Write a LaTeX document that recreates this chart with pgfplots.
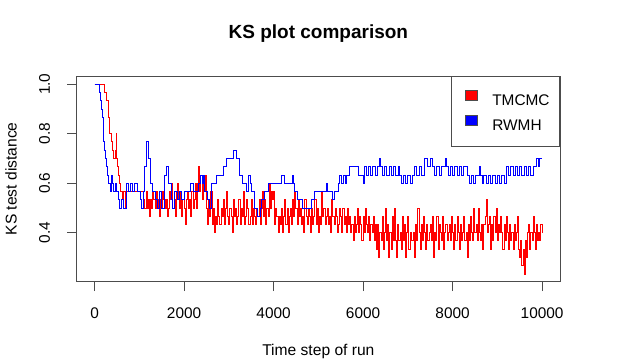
\documentclass[border=0pt]{standalone}
\usepackage{pgfplots}
\pgfplotsset{compat=1.18}
\usepackage{pgfplotstable}
\usepackage{fontspec}
\setmainfont{Liberation Sans}

% KS distance per time step, RWMH sampler
\pgfplotstableread{
x y
0 1.000
100 0.967
130 0.933
150 0.900
170 0.867
190 0.800
210 0.767
230 0.733
250 0.700
270 0.667
290 0.633
320 0.600
350 0.567
380 0.633
400 0.600
430 0.567
460 0.600
500 0.567
530 0.533
560 0.500
600 0.533
650 0.500
710 0.600
760 0.567
800 0.600
850 0.567
900 0.600
950 0.567
1020 0.533
1050 0.500
1090 0.567
1125 0.667
1150 0.767
1200 0.700
1245 0.600
1300 0.567
1355 0.533
1400 0.500
1450 0.567
1500 0.500
1570 0.633
1610 0.667
1645 0.600
1715 0.533
1750 0.500
1795 0.567
1850 0.533
1900 0.567
1950 0.533
2000 0.567
2150 0.600
2200 0.567
2315 0.600
2360 0.633
2400 0.600
2440 0.633
2465 0.567
2520 0.533
2560 0.500
2610 0.600
2720 0.633
2870 0.667
2945 0.700
3095 0.733
3170 0.700
3245 0.633
3300 0.600
3400 0.567
3430 0.633
3480 0.600
3500 0.567
3580 0.500
3630 0.467
3700 0.500
3730 0.533
3800 0.567
3880 0.600
4175 0.633
4250 0.600
4420 0.633
4440 0.600
4460 0.567
4540 0.533
4655 0.500
4840 0.533
4920 0.567
5180 0.600
5200 0.567
5320 0.533
5360 0.567
5440 0.600
5480 0.633
5520 0.600
5560 0.633
5600 0.600
5640 0.633
5700 0.667
5890 0.633
6000 0.600
6035 0.667
6080 0.633
6120 0.667
6170 0.633
6220 0.667
6270 0.633
6320 0.667
6370 0.700
6390 0.667
6440 0.633
6480 0.667
6530 0.633
6580 0.667
6630 0.633
6680 0.667
6730 0.633
6780 0.667
6815 0.633
6860 0.600
6900 0.633
6950 0.600
7000 0.633
7050 0.600
7100 0.633
7150 0.667
7200 0.633
7250 0.667
7300 0.633
7375 0.700
7450 0.667
7500 0.700
7560 0.667
7600 0.633
7650 0.667
7700 0.633
7750 0.667
7840 0.700
7860 0.667
7900 0.633
7950 0.667
8000 0.633
8050 0.667
8100 0.633
8150 0.667
8200 0.633
8250 0.667
8340 0.633
8380 0.600
8420 0.633
8470 0.600
8520 0.633
8600 0.667
8620 0.633
8660 0.600
8700 0.633
8750 0.600
8800 0.633
8850 0.600
8900 0.633
8950 0.600
9000 0.633
9050 0.600
9100 0.633
9150 0.600
9200 0.667
9250 0.633
9300 0.667
9350 0.633
9400 0.667
9450 0.633
9500 0.667
9550 0.633
9600 0.667
9650 0.633
9700 0.667
9750 0.633
9800 0.667
9870 0.700
9920 0.667
9950 0.700
10000 0.700
}\rwmh

\begin{document}
\begin{tikzpicture}
\useasboundingbox (-76.7pt,-77.3pt) rectangle (560.3pt,281.7pt);
\begin{axis}[
  scale only axis,
  width=483.3pt, height=205.7pt,
  xmin=-400, xmax=10400,
  ymin=0.2023, ymax=1.0335,
  xtick={0,2000,4000,6000,8000,10000},
  ytick={0.4,0.6,0.8,1.0},
  scaled ticks=false,
  xticklabel style={/pgf/number format/1000 sep={}, inner sep=0pt},
  yticklabel style={/pgf/number format/.cd, fixed, fixed zerofill, precision=1, /tikz/.cd,
    rotate=90, anchor=south, inner sep=0pt},
  /pgf/number format/assume math mode=true,
  xticklabel shift=16pt,
  yticklabel shift=17pt,
  tick label style={font=\fontsize{15.4}{17}\selectfont},
  label style={font=\fontsize{15.6}{18}\selectfont},
  tick pos=left,
  tick align=outside,
  major tick length=9.5pt,
  tick style={black!70, line width=0.8pt},
  axis line style={black!70, line width=0.8pt},
  xlabel={Time step of run},
  ylabel={KS test distance},
  xlabel style={at={(axis description cs:0.5,-0.3388)}, anchor=center},
  ylabel style={at={(axis description cs:-0.136,0.5)}, anchor=center},
  title={KS plot comparison},
  title style={at={(axis description cs:0.5,1.175)}, anchor=center,
    font=\fontsize{19}{22}\selectfont\bfseries},
  legend style={at={(1,1)}, anchor=north east, draw=black!70, line width=0.8pt,
    fill=white, inner xsep=10pt, inner ysep=14pt, row sep=8pt,
    nodes={inner sep=0pt}, font=\fontsize{15.4}{17}\selectfont,
    /tikz/every odd column/.append style={column sep=14pt}},
  legend cell align=left,
]
% TMCMC
\addplot[const plot, red, line width=1pt, forget plot] coordinates {
(0,1.000) (230,0.967) (260,0.933) (300,0.900) (320,0.867) (340,0.800) (370,0.767) (390,0.733)
(430,0.700) (460,0.733) (480,0.800) (490,0.700) (520,0.667) (540,0.633) (560,0.600) (580,0.567)
(620,0.533) (640,0.567) (680,0.500) (700,0.567)
(1100,.533) (1125,.500) (1150,.567) (1175,.500) (1200,.533) (1225,.467) (1250,.533) (1275,.500)
(1300,.567) (1325,.533) (1350,.500) (1375,.567) (1400,.533) (1425,.500) (1450,.467) (1475,.533)
(1500,.500) (1525,.567) (1550,.533) (1575,.500) (1600,.533) (1625,.467) (1650,.500) (1675,.567)
(1700,.533) (1725,.600) (1750,.500) (1775,.533) (1800,.467) (1825,.567) (1850,.600) (1875,.533)
(1900,.500) (1925,.567) (1950,.467) (1975,.533) (2000,.500) (2025,.433) (2050,.533) (2075,.567)
(2100,.500) (2125,.533) (2150,.467) (2175,.567) (2200,.500) (2225,.533) (2250,.600) (2275,.500)
(2300,.600) (2325,.667) (2350,.567) (2375,.633) (2400,.533) (2425,.600) (2450,.567) (2475,.633)
(2500,.500) (2525,.433) (2550,.533) (2575,.467) (2600,.567) (2625,.433) (2650,.500) (2675,.400)
(2700,.467) (2725,.433) (2750,.533) (2775,.467) (2800,.433) (2825,.500) (2850,.467) (2875,.533)
(2900,.433) (2925,.500) (2950,.567) (2975,.467) (3000,.433) (3025,.500) (3050,.467) (3075,.400)
(3100,.533) (3125,.467) (3150,.500) (3175,.433) (3200,.467) (3225,.533) (3250,.433) (3275,.500)
(3300,.467) (3325,.567) (3350,.433) (3375,.467) (3400,.533) (3425,.500) (3450,.433) (3475,.467)
(3500,.533) (3525,.433) (3550,.500) (3575,.467) (3600,.433) (3625,.500) (3650,.467) (3675,.533)
(3700,.433) (3725,.500) (3750,.567) (3775,.467) (3800,.533) (3825,.433) (3850,.500) (3875,.467)
(3900,.600) (3925,.500) (3950,.567) (3975,.533)
(4000,.567) (4025,.433) (4050,.500) (4075,.467) (4100,.400) (4125,.467) (4150,.433) (4175,.500)
(4200,.400) (4225,.467) (4250,.533) (4275,.433) (4300,.500) (4325,.400) (4350,.467) (4375,.500)
(4400,.433) (4425,.533) (4450,.467) (4475,.567) (4500,.500) (4525,.433) (4550,.533) (4575,.467)
(4600,.500) (4625,.433) (4650,.467) (4675,.400) (4700,.533) (4725,.467) (4750,.433) (4775,.500)
(4800,.467) (4825,.400) (4850,.500) (4875,.433) (4900,.467) (4925,.533) (4950,.433) (4975,.500)
(5000,.400) (5025,.467) (5050,.433) (5075,.567) (5100,.467) (5125,.500) (5150,.433) (5175,.467)
(5200,.500) (5225,.433) (5250,.467) (5275,.400) (5300,.533) (5325,.467) (5350,.433) (5375,.500)
(5400,.467) (5425,.400) (5450,.433) (5475,.500) (5500,.467) (5525,.400) (5550,.500) (5575,.433)
(5600,.467) (5625,.400) (5650,.500) (5675,.433) (5700,.467) (5725,.400) (5750,.433) (5775,.367)
(5800,.467) (5825,.400) (5850,.433) (5875,.500) (5900,.400) (5925,.467) (5950,.433) (5975,.367)
(6000,.467) (6025,.400) (6050,.500) (6075,.433) (6100,.400) (6125,.467) (6150,.367) (6175,.433)
(6200,.400) (6225,.467) (6250,.367) (6275,.433)
(6300,.333) (6325,.433) (6350,.300) (6375,.400) (6400,.367) (6425,.467) (6450,.333) (6475,.400)
(6500,.500) (6525,.367) (6550,.433) (6575,.300) (6600,.400) (6625,.333) (6650,.467) (6675,.367)
(6700,.500) (6725,.367) (6750,.300) (6775,.433) (6800,.367) (6825,.400) (6850,.333) (6875,.467)
(6900,.367) (6925,.433) (6950,.300) (6975,.400) (7000,.467) (7025,.333) (7050,.400) (7075,.367)
(7100,.367) (7125,.400) (7150,.300) (7175,.433) (7200,.367) (7225,.500) (7250,.400) (7275,.333)
(7300,.433) (7325,.367) (7350,.467) (7375,.400) (7400,.333) (7425,.433) (7450,.367) (7475,.400)
(7500,.433) (7525,.367) (7550,.467) (7575,.300) (7600,.400) (7625,.367) (7650,.467) (7675,.333)
(7700,.433) (7725,.400) (7750,.367) (7775,.467) (7800,.333) (7825,.400) (7850,.433) (7875,.367)
(7900,.400) (7925,.433) (7950,.367) (7975,.467) (8000,.400) (8025,.333) (8050,.433) (8075,.367)
(8100,.467) (8125,.400) (8150,.333) (8175,.433) (8200,.367) (8225,.400) (8250,.467) (8275,.367)
(8300,.400) (8325,.300) (8350,.433) (8375,.367) (8400,.467) (8425,.400) (8450,.367) (8475,.500)
(8500,.400) (8525,.433) (8550,.367) (8575,.500) (8600,.400) (8625,.367) (8650,.433) (8675,.333)
(8700,.433) (8725,.467) (8750,.533) (8775,.400) (8800,.433) (8825,.467) (8850,.333) (8875,.433)
(8900,.367) (8925,.467) (8950,.400) (8975,.500) (9000,.367) (9025,.433) (9050,.400) (9075,.467)
(9100,.400) (9125,.333) (9150,.433) (9175,.367) (9200,.467) (9225,.400) (9250,.333) (9275,.433)
(9300,.367) (9325,.400) (9350,.333) (9375,.433) (9400,.367) (9425,.400) (9450,.467) (9475,.333)
(9500,.300) (9525,.367) (9550,.267) (9575,.333) (9600,.233) (9625,.367) (9650,.300) (9675,.400)
(9700,.433) (9725,.333) (9750,.400) (9775,.367) (9800,.467) (9825,.400) (9850,.333) (9875,.433)
(9900,.367) (9925,.400) (9950,.367) (9975,.433) (10000,.400)
};
% RWMH
\addplot[const plot, blue, line width=1pt, forget plot] table {\rwmh};
\addlegendimage{legend image code/.code={\path (0pt,0pt);
  \filldraw[draw=black!70, fill=red, line width=0.8pt] (4pt,0.5pt) rectangle (16pt,10.5pt);}}
\addlegendentry{TMCMC}
\addlegendimage{legend image code/.code={\path (0pt,0pt);
  \filldraw[draw=black!70, fill=blue, line width=0.8pt] (4pt,0.5pt) rectangle (16pt,10.5pt);}}
\addlegendentry{RWMH}
\end{axis}
\end{tikzpicture}
\end{document}
